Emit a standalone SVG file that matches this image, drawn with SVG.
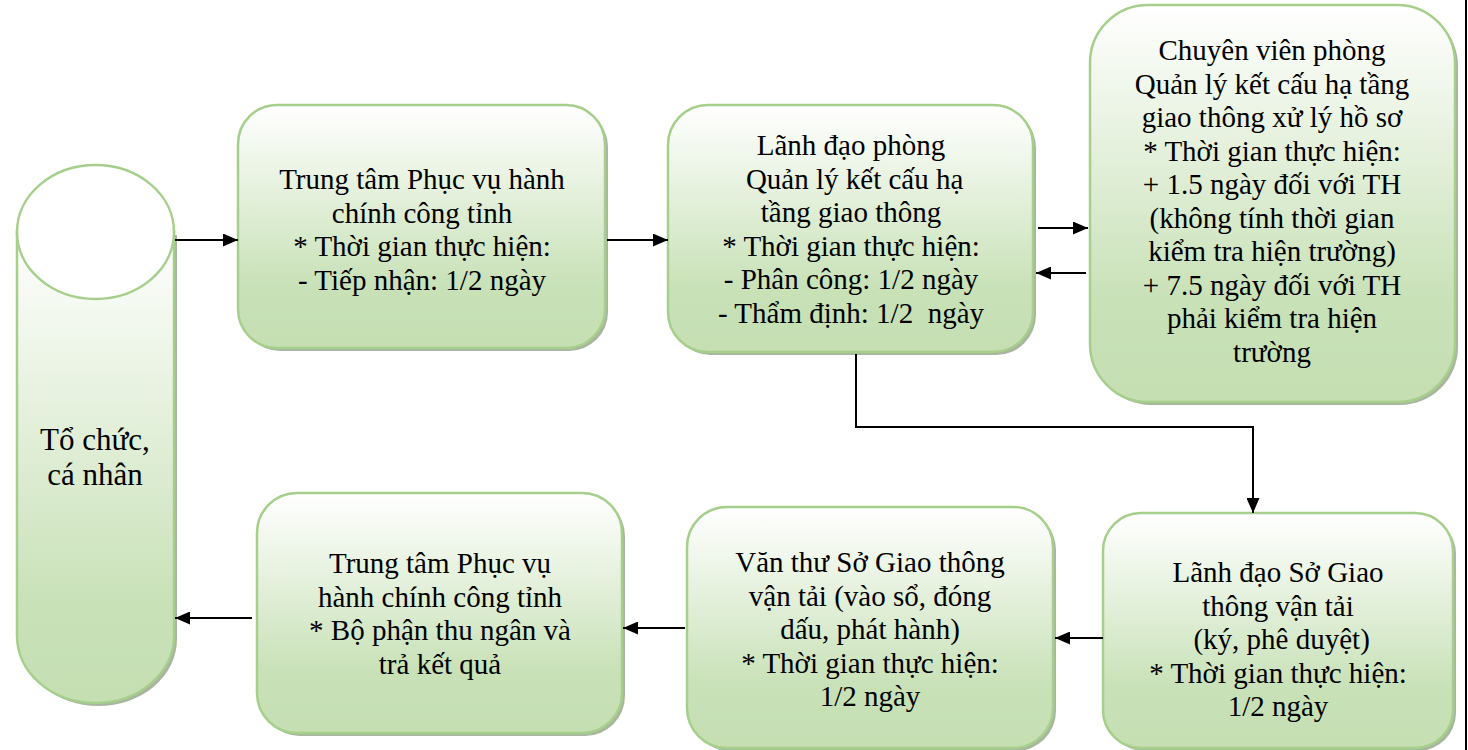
<svg xmlns="http://www.w3.org/2000/svg" width="1468" height="750" viewBox="0 0 1468 750">
<defs>
<linearGradient id="g" x1="0" y1="0" x2="0" y2="1">
<stop offset="0" stop-color="#ffffff"/>
<stop offset="0.75" stop-color="#c8e1b7"/>
<stop offset="1" stop-color="#c5dfb3"/>
</linearGradient>
<linearGradient id="gc" gradientUnits="userSpaceOnUse" x1="0" y1="230" x2="0" y2="703">
<stop offset="0" stop-color="#ffffff"/>
<stop offset="0.8" stop-color="#c8e1b7"/>
<stop offset="1" stop-color="#c5dfb3"/>
</linearGradient>
<marker id="ah" viewBox="0 0 10 10" refX="10" refY="5" markerUnits="userSpaceOnUse" markerWidth="15" markerHeight="13" orient="auto" preserveAspectRatio="none">
<path d="M0,0 L10,5 L0,10 z" fill="#000"/>
</marker>
</defs>
<style>
.box{fill:url(#g);stroke:#a6cf8b;stroke-width:2.5}
.sh{fill:#9aa88f;opacity:0.85}
.t{font-family:'Liberation Serif','DejaVu Serif',serif;font-size:29px;fill:#000;text-anchor:middle;white-space:pre}
.c{fill:none;stroke:#000;stroke-width:2;marker-end:url(#ah)}
</style>
<rect width="1468" height="750" fill="#fff"/>
<line x1="1466" y1="0" x2="1466" y2="750" stroke="#000" stroke-width="2"/>

<g id="cylinder">
<path class="sh" d="M20,235 L20,639 A78.5,67 0 0 0 177,639 L177,235 Z"/>
<path d="M17,232 L17,636 A78.5,67 0 0 0 174,636 L174,232 Z" fill="url(#gc)" stroke="#a6cf8b" stroke-width="2.5"/>
<ellipse cx="95.5" cy="232" rx="78.5" ry="67" fill="#fff" stroke="#a6cf8b" stroke-width="2.5"/>
<text class="t" font-family="'Liberation Serif', serif" style="font-size:31px" x="95" y="450">Tổ chức,</text>
<text class="t" font-family="'Liberation Serif', serif" style="font-size:31px" x="95" y="485">cá nhân</text>
</g>

<g id="n1">
<rect class="sh" x="241" y="108" width="367" height="243" rx="39"/>
<rect class="box" x="238" y="105" width="367" height="243" rx="39"/>
<text class="t" font-family="'Liberation Serif', serif" x="422" y="189">Trung tâm Phục vụ hành<tspan x="422" dy="33.7">chính công tỉnh</tspan><tspan x="422" dy="33.7">* Thời gian thực hiện:</tspan><tspan x="422" dy="33.7">- Tiếp nhận: 1/2 ngày</tspan></text>
</g>

<g id="n2">
<rect class="sh" x="671" y="108" width="365" height="247" rx="40"/>
<rect class="box" x="668" y="105" width="365" height="247" rx="40"/>
<text class="t" font-family="'Liberation Serif', serif" x="851" y="155">Lãnh đạo phòng<tspan x="851" dy="33.6"> Quản lý kết cấu hạ</tspan><tspan x="851" dy="33.6">tầng giao thông</tspan><tspan x="851" dy="33.6">* Thời gian thực hiện:</tspan><tspan x="851" dy="33.6">- Phân công: 1/2 ngày</tspan><tspan x="851" dy="33.6">- Thẩm định: 1/2  ngày</tspan></text>
</g>

<g id="n3">
<rect class="sh" x="1093" y="8" width="365" height="397" rx="58"/>
<rect class="box" x="1090" y="5" width="365" height="397" rx="58"/>
<text class="t" font-family="'Liberation Serif', serif" x="1272" y="60">Chuyên viên phòng<tspan x="1272" dy="33.5">Quản lý kết cấu hạ tầng</tspan><tspan x="1272" dy="33.5">giao thông xử lý hồ sơ</tspan><tspan x="1272" dy="33.5">* Thời gian thực hiện:</tspan><tspan x="1272" dy="33.5">+ 1.5 ngày đối với TH</tspan><tspan x="1272" dy="33.5">(không tính thời gian</tspan><tspan x="1272" dy="33.5">kiểm tra hiện trường)</tspan><tspan x="1272" dy="33.5">+ 7.5 ngày đối với TH</tspan><tspan x="1272" dy="33.5">phải kiểm tra hiện</tspan><tspan x="1272" dy="33.5">trường</tspan></text>
</g>

<g id="n4">
<rect class="sh" x="1106" y="516" width="350" height="235" rx="38"/>
<rect class="box" x="1103" y="513" width="350" height="235" rx="38"/>
<text class="t" font-family="'Liberation Serif', serif" x="1278" y="582">Lãnh đạo Sở Giao<tspan x="1278" dy="33.5">thông vận tải</tspan><tspan x="1278" dy="33.5"> (ký, phê duyệt)</tspan><tspan x="1278" dy="33.5">* Thời gian thực hiện:</tspan><tspan x="1278" dy="33.5">1/2 ngày</tspan></text>
</g>

<g id="n5">
<rect class="sh" x="690" y="510" width="366" height="241" rx="40"/>
<rect class="box" x="687" y="507" width="366" height="241" rx="40"/>
<text class="t" font-family="'Liberation Serif', serif" x="870" y="572">Văn thư Sở Giao thông<tspan x="870" dy="33.5">vận tải (vào sổ, đóng</tspan><tspan x="870" dy="33.5">dấu, phát hành)</tspan><tspan x="870" dy="33.5">* Thời gian thực hiện:</tspan><tspan x="870" dy="33.5">1/2 ngày</tspan></text>
</g>

<g id="n6">
<rect class="sh" x="260" y="496" width="365" height="240" rx="40"/>
<rect class="box" x="257" y="493" width="365" height="240" rx="40"/>
<text class="t" font-family="'Liberation Serif', serif" x="440" y="573">Trung tâm Phục vụ<tspan x="440" dy="33.7">hành chính công tỉnh</tspan><tspan x="440" dy="33.7">* Bộ phận thu ngân và</tspan><tspan x="440" dy="33.7">trả kết quả</tspan></text>
</g>

<g id="connectors">
<path class="c" d="M175,240 L238,240"/>
<path class="c" d="M607,240 L668,240"/>
<path class="c" d="M1038,228 L1088,228"/>
<path class="c" d="M1086,273 L1036,273"/>
<path class="c" d="M856,354 L856,427 L1253,427 L1253,513"/>
<path class="c" d="M1103,638 L1055,638"/>
<path class="c" d="M685,628 L623,628"/>
<path class="c" d="M252,618 L175,618"/>
</g>
</svg>
